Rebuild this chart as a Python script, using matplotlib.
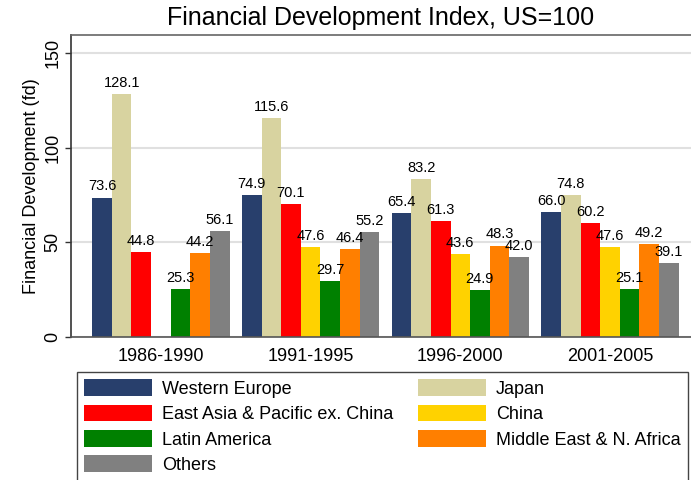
import matplotlib
matplotlib.use("Agg")
import matplotlib.pyplot as plt
import numpy as np
from matplotlib.patches import Patch

plt.rcParams['font.family'] = ['Liberation Sans', 'DejaVu Sans']

periods = ['1986-1990', '1991-1995', '1996-2000', '2001-2005']
regions = ['Western Europe', 'Japan', 'East Asia & Pacific ex. China', 'China',
           'Latin America', 'Middle East & N. Africa', 'Others']
western_europe = [73.6, 74.9, 65.4, 66.0]
japan = [128.1, 115.6, 83.2, 74.8]
east_asia = [44.8, 70.1, 61.3, 60.2]
china = [np.nan, 47.6, 43.6, 47.6]
latin_america = [25.3, 29.7, 24.9, 25.1]
middle_east = [44.2, 46.4, 48.3, 49.2]
others = [56.1, 55.2, 42.0, 39.1]
series = [western_europe, japan, east_asia, china, latin_america, middle_east, others]
colors = ['#283f6c', '#d8d3a0', '#ff0000', '#ffd200', '#008000', '#ff7f00', '#808080']

fig = plt.figure(figsize=(6.91, 4.8), dpi=100)
ax = fig.add_axes([71 / 691, 1 - 337 / 480, 1 - 71 / 691, (337 - 35) / 480])

x = np.arange(len(periods))
w = 0.131
for i, (vals, c) in enumerate(zip(series, colors)):
    pos = x + (i - 3) * w
    ax.bar(pos, vals, width=w, color=c, edgecolor='none', zorder=2)
    for p, v in zip(pos, vals):
        if np.isnan(v):
            continue
        ax.annotate(f'{v:.1f}', (p, v), xytext=(0, 3), textcoords='offset points',
                    ha='center', va='bottom', fontsize=10.5, zorder=3)

ax.set_xlim(-0.6005, 3.541)
ax.set_ylim(0, 159.5)
ax.set_yticks([0, 50, 100, 150])
ax.set_xticks(x)
ax.set_xticklabels(periods, fontsize=13)
ax.tick_params(axis='x', length=0, pad=8)
ax.tick_params(axis='y', length=4, width=1, labelsize=13, pad=3, color='#333333')
for lab in ax.get_yticklabels():
    lab.set_rotation(90)
    lab.set_va('center')
ax.yaxis.grid(True, color='#e0e0e0', linewidth=1.5, zorder=0)
ax.set_axisbelow(True)
ax.spines['right'].set_visible(False)
ax.spines['top'].set_color('#666666')
ax.spines['left'].set_color('#333333')
ax.spines['bottom'].set_color('#555555')
for s in ['left', 'bottom', 'top']:
    ax.spines[s].set_linewidth(1.2)
ax.set_ylabel('Financial Development (fd)', fontsize=13, labelpad=3)

fig.text((71 + 691) / 2 / 691, 1 - 18 / 480, 'Financial Development Index, US=100',
         ha='center', va='center', fontsize=18)

order = [0, 2, 4, 6, 1, 3, 5]
handles = [Patch(facecolor=colors[i], edgecolor='none') for i in order]
labels = [regions[i] for i in order]
leg = fig.legend(handles, labels, loc='upper left', ncol=2,
                 bbox_to_anchor=(77 / 691, 1 - 372 / 480), borderaxespad=0,
                 fontsize=13, handlelength=3.75, handleheight=1.05,
                 handletextpad=0.55, columnspacing=1.38, labelspacing=0.38,
                 borderpad=0.4, fancybox=False, framealpha=1)
leg.get_frame().set_edgecolor('#444444')
leg.get_frame().set_linewidth(1.0)

fig.savefig('out.png', dpi=100)
